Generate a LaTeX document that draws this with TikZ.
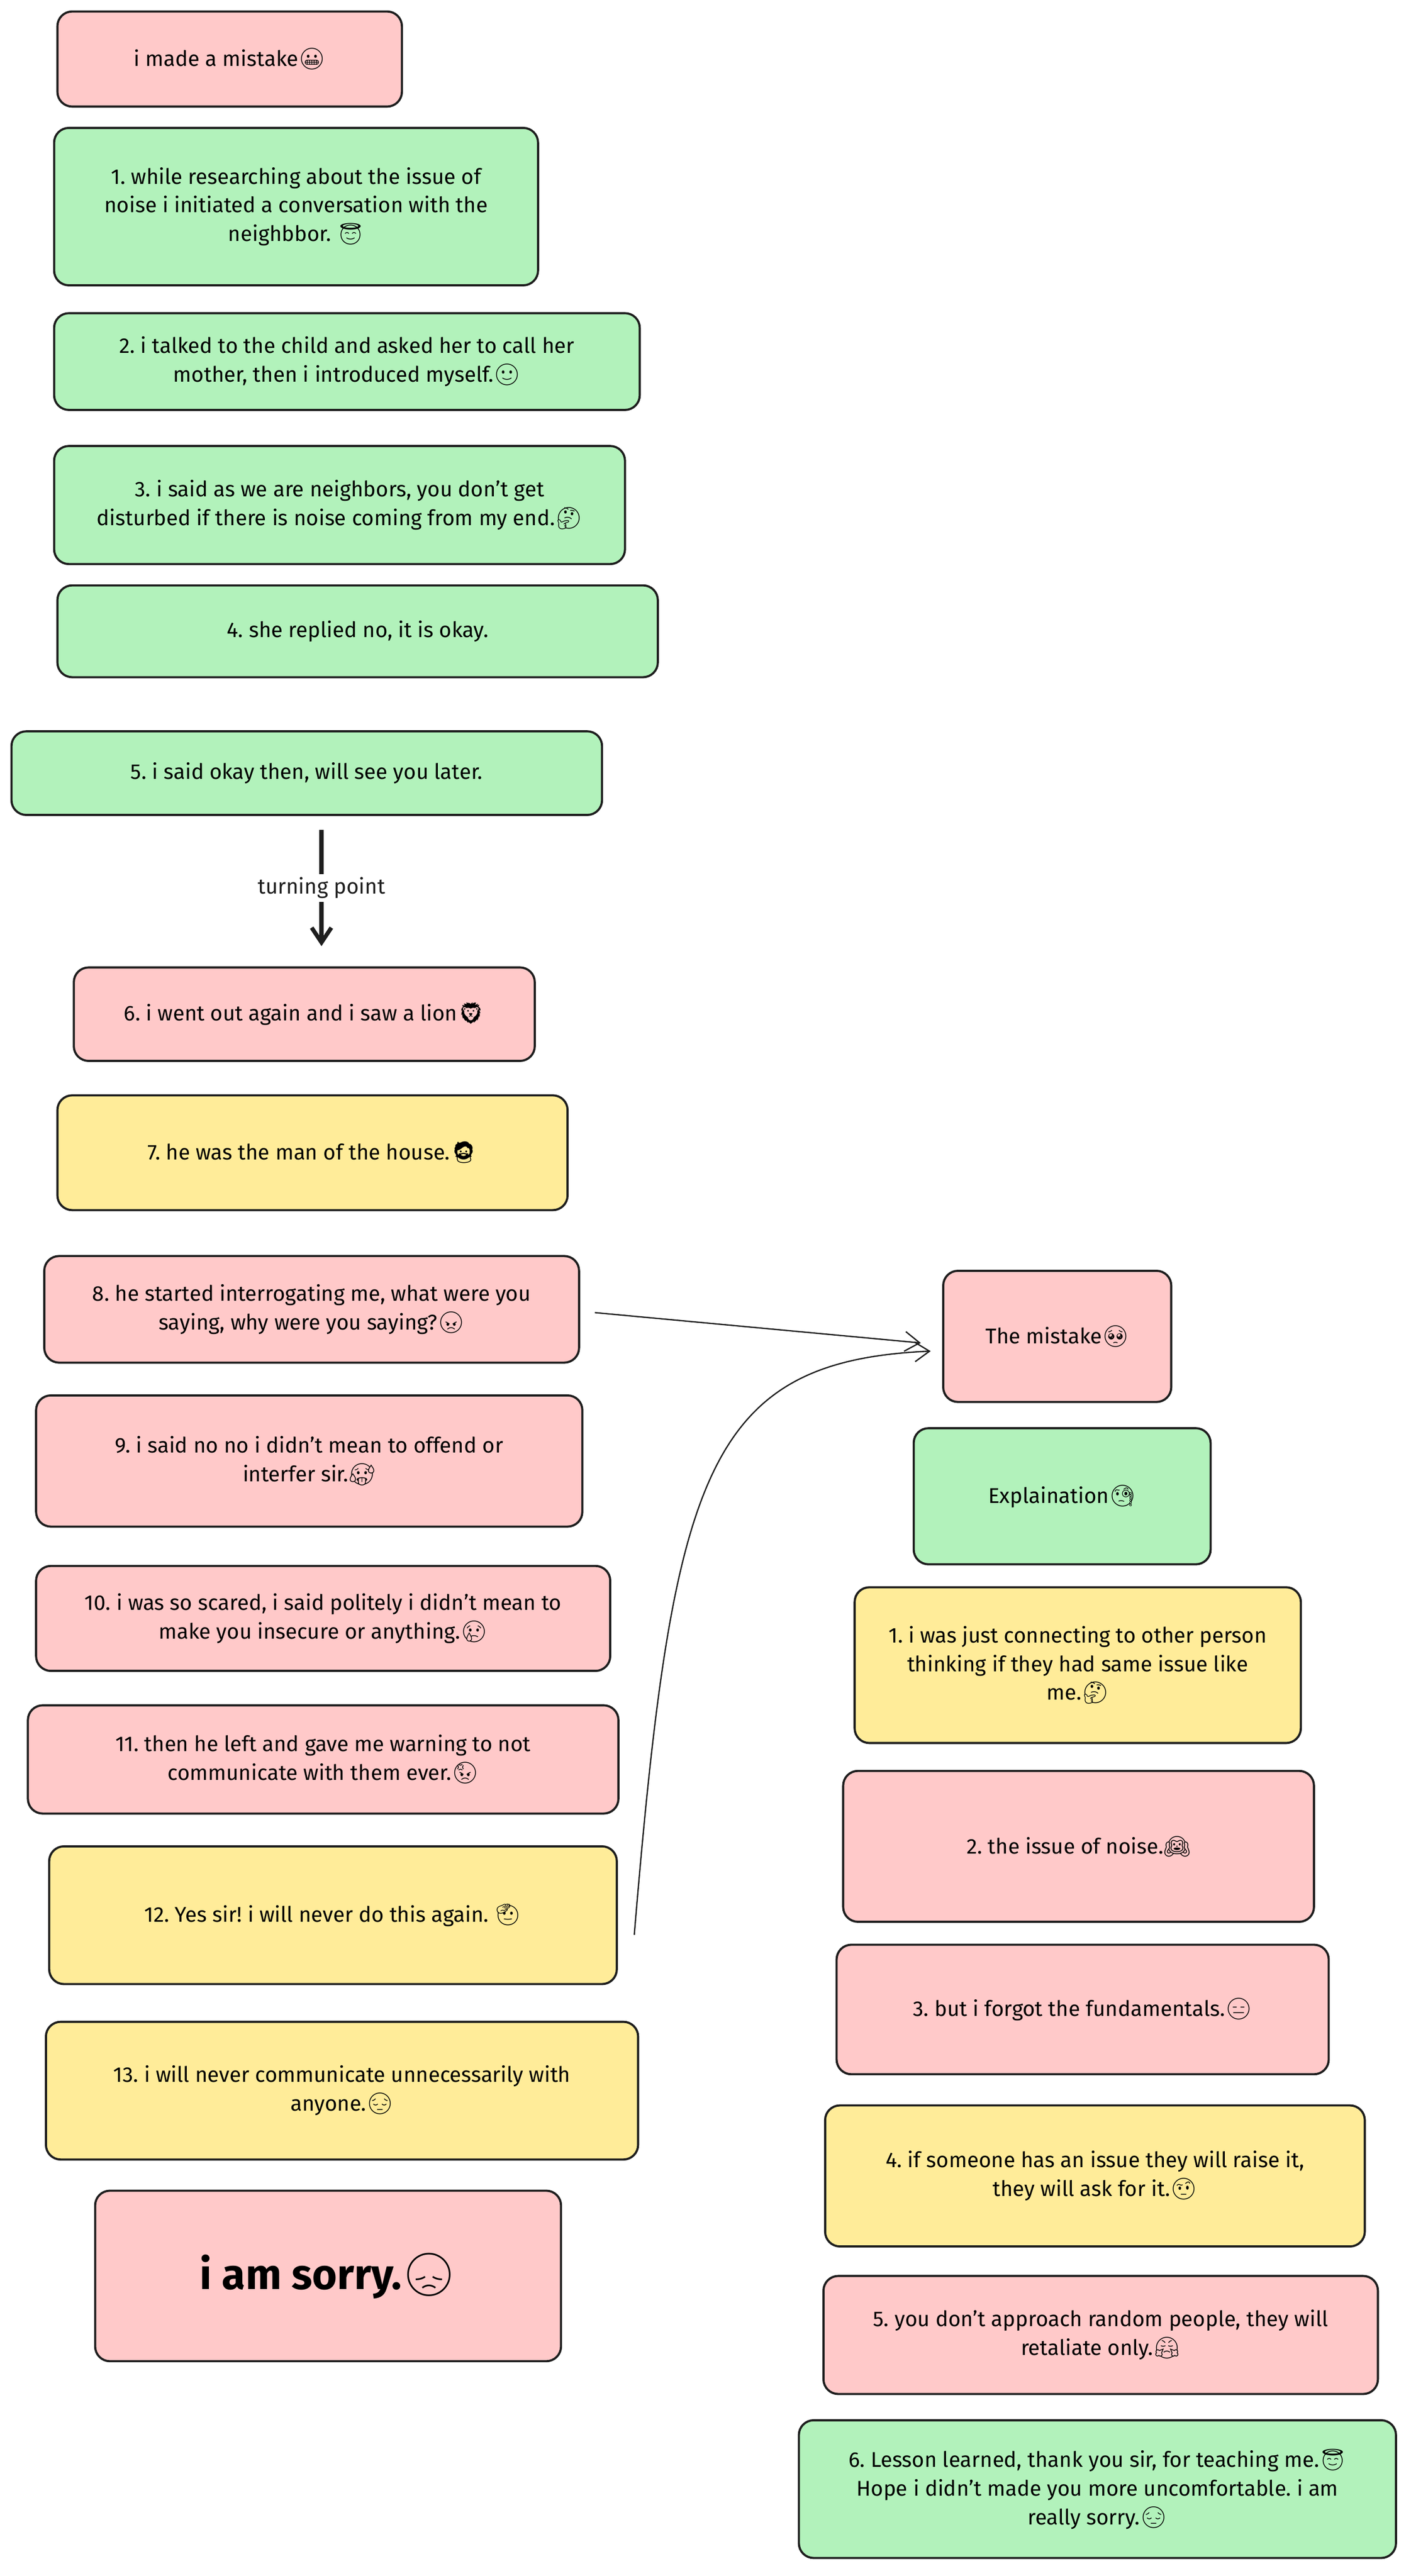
\documentclass[tikz,border=0pt]{standalone}
\usetikzlibrary{arrows.meta}
\usepackage{fontspec}
\setmainfont{Fira Sans}
\newfontfamily\emojifont{Noto Emoji}
\newcommand{\emo}[1]{{\emojifont #1}}
\frenchspacing
\definecolor{pk}{HTML}{FFC9C9}
\definecolor{gr}{HTML}{B2F2BB}
\definecolor{ye}{HTML}{FFEC99}
\definecolor{ink}{HTML}{1E1E1E}
\tikzset{card/.style={draw=ink,line width=1.3pt,rounded corners=9pt,align=center,inner sep=0pt,font=\fontsize{13}{17.5}\selectfont}}
\newcommand{\bx}[7]{\node[card,fill=#6,minimum width={(#4-#2)*1pt},minimum height={(#5-#3)*1pt}] (#1) at ({(#2+#4)/2},{-(#3+#5)/2}) {#7};}
\begin{document}
\begin{tikzpicture}[x=1pt,y=1pt]
\useasboundingbox (0,0) rectangle (860,-1571);
\bx{a0}{35}{7}{245}{65}{pk}{i made a mistake\emo{😬}}
\bx{a1}{33}{78}{328}{174}{gr}{1. while researching about the issue of\\noise i initiated a conversation with the\\neighbbor. \emo{😇}}
\bx{a2}{33}{191}{390}{250}{gr}{2. i talked to the child and asked her to call her\\mother, then i introduced myself.\emo{🙂}}
\bx{a3}{33}{272}{381}{344}{gr}{3. i said as we are neighbors, you don't get\\disturbed if there is noise coming from my end.\emo{🤔}}
\bx{a4}{35}{357}{401}{413}{gr}{4. she replied no, it is okay.}
\bx{a5}{7}{446}{367}{497}{gr}{5. i said okay then, will see you later.}
\bx{a6}{45}{590}{326}{647}{pk}{6. i went out again and i saw a lion\emo{🦁}}
\bx{a7}{35}{668}{346}{738}{ye}{7. he was the man of the house.\emo{🧔}}
\bx{a8}{27}{766}{353}{831}{pk}{8. he started interrogating me, what were you\\saying, why were you saying?\emo{😠}}
\bx{a9}{22}{851}{355}{931}{pk}{9. i said no no i didn't mean to offend or\\interfer sir.\emo{🥵}}
\bx{a10}{22}{955}{372}{1019}{pk}{10. i was so scared, i said politely i didn't mean to\\make you insecure or anything.\emo{😢}}
\bx{a11}{17}{1040}{377}{1106}{pk}{11. then he left and gave me warning to not\\communicate with them ever.\emo{😡}}
\bx{a12}{30}{1126}{376}{1210}{ye}{12. Yes sir! i will never do this again. \emo{🫡}}
\bx{a13}{28}{1233}{389}{1317}{ye}{13. i will never communicate unnecessarily with\\anyone.\emo{😔}}
\node[card,fill=pk,minimum width=284pt,minimum height=104pt,font=\fontsize{26}{30}\selectfont\bfseries] (a14) at (200,-1388) {i am sorry.\emo{😞}};
\bx{b0}{575}{775}{714}{855}{pk}{The mistake\emo{🥺}}
\bx{b1}{557}{871}{738}{954}{gr}{Explaination\emo{🧐}}
\bx{b2}{521}{968}{793}{1063}{ye}{1. i was just connecting to other person\\thinking if they had same issue like\\me.\emo{🤔}}
\bx{b3}{514}{1080}{801}{1172}{pk}{2. the issue of noise.\emo{🙉}}
\bx{b4}{510}{1186}{810}{1265}{pk}{3. but i forgot the fundamentals.\emo{😑}}
\bx{b5}{503}{1284}{832}{1370}{ye}{4. if someone has an issue they will raise it,\\they will ask for it.\emo{🤨}}
\bx{b6}{502}{1388}{840}{1460}{pk}{5. you don't approach random people, they will\\retaliate only.\emo{😤}}
\bx{b7}{487}{1476}{851}{1560}{gr}{6. Lesson learned, thank you sir, for teaching me.\emo{😇}\\Hope i didn't made you more uncomfortable. i am\\really sorry.\emo{😔}}
\coordinate (t0) at (196,-506);
\coordinate (t1) at (196,-577);
\draw[ink,line width=2.5pt,-{Straight Barb[length=9pt,width=12pt]}] (t0) -- node[fill=white,inner sep=2pt,font=\fontsize{13}{15}\selectfont]{turning point} (t1);
\draw[ink,line width=0.8pt,-{Straight Barb[length=9pt,width=12pt]}] ([xshift=9pt,yshift=-2pt]a8.east) -- ([xshift=-13pt,yshift=-4pt]b0.west);
\draw[ink,line width=0.8pt,-{Straight Barb[length=9pt,width=12pt]}] ([xshift=10pt,yshift=-12pt]a12.east) .. controls (410,-900) and (430,-830) .. ([xshift=-7pt,yshift=-9pt]b0.west);
\end{tikzpicture}
\end{document}
